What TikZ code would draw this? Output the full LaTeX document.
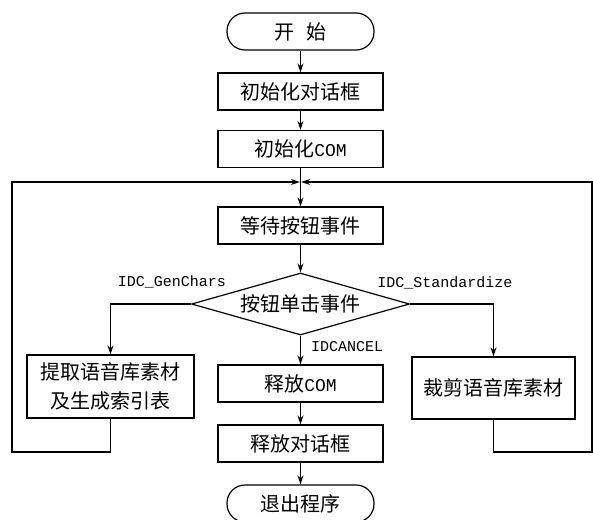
\documentclass[tikz,border=0pt]{standalone}
\usepackage{fontspec}
\newfontfamily\cjk{Noto Sans CJK SC}
\newfontfamily\lmono{Liberation Mono}
\usetikzlibrary{arrows.meta,shapes.geometric}
\begin{document}
\begin{tikzpicture}[x=1pt,y=-1pt,
  box/.style={draw,line width=1.2pt,rectangle,minimum width=165pt,minimum height=37pt,inner sep=0pt,align=center,font=\cjk\fontsize{20}{29}\selectfont},
  term/.style={box,rounded corners=18pt,minimum width=147pt},
  dec/.style={draw,line width=1.2pt,diamond,aspect=3.4,minimum width=218pt,minimum height=62pt,inner sep=0pt,font=\cjk\fontsize{20}{22}\selectfont},
  arr/.style={line width=1.2pt,-{Stealth[length=9pt,width=6pt]}},
  lbl/.style={font=\lmono\fontsize{15}{18}\selectfont,inner sep=0pt},
  latin/.style={font=\lmono\fontsize{18}{20}\selectfont}]
\fill[white] (0,0) rectangle (593,519);
\useasboundingbox (0,0) rectangle (593,519);
\node[term] (start) at (300.5,31.5) {开\hspace{0.6em}始};
\node[box] (dlg) at (300.5,91.5) {初始化对话框};
\node[box] (com) at (300.5,149) {初始化{\lmono\fontsize{18}{20}\selectfont COM}};
\coordinate (merge) at (300.5,182);
\node[box] (wait) at (300.5,225.5) {等待按钮事件};
\node[dec] (dia) at (300.5,304) {按钮单击事件};
\node[box,minimum width=167pt,minimum height=63pt] (lbox) at (110.5,386.5) {提取语音库素材\\及生成索引表};
\node[box,minimum width=163pt,minimum height=62pt] (rbox) at (493.5,388) {裁剪语音库素材};
\node[box] (rcom) at (300.5,383.5) {释放{\lmono\fontsize{18}{20}\selectfont COM}};
\node[box] (rdlg) at (300.5,443.5) {释放对话框};
\node[term] (exit) at (300.5,503.5) {退出程序};
\coordinate (lcorner) at (12,452);
\coordinate (rcorner) at (592,452);
\node[lbl] (lg) at (172,282) {IDC\_GenChars};
\node[lbl] (ls) at (445,283) {IDC\_Standardize};
\node[lbl,anchor=west] (lc) at (311,347) {IDCANCEL};
\draw[arr] (start) -- (dlg);
\draw[arr] (dlg) -- (com);
\draw[arr] (com) -- (wait);
\draw[arr] (wait) -- (dia);
\draw[arr] (dia.west) -| (lbox.north);
\draw[arr] (dia.east) -| (rbox.north);
\draw[arr] (dia.south) -- (rcom.north);
\draw[arr] (rcom) -- (rdlg);
\draw[arr] (rdlg) -- (exit);
\draw[arr,shorten >=0.6pt] (lbox.south) |- (lcorner) |- (merge);
\draw[arr,shorten >=0.6pt] (rbox.south) |- (rcorner) |- (merge);
\end{tikzpicture}
\end{document}
